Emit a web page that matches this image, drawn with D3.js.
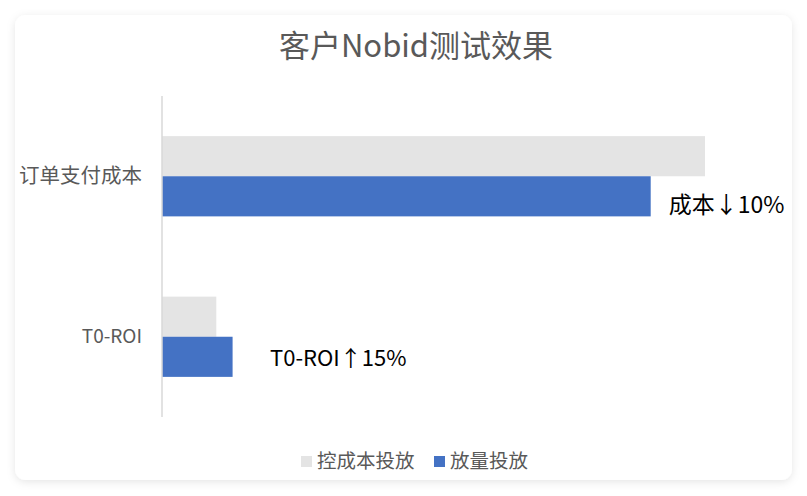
<!DOCTYPE html>
<html>
<head>
<meta charset="utf-8">
<script src="https://cdn.jsdelivr.net/npm/d3@7"></script>
<style>
  html, body { margin: 0; padding: 0; background: #ffffff; }
  #chart { width: 807px; height: 496px; }
  text { font-family: "Noto Sans CJK SC", "Noto Sans", sans-serif; }
</style>
</head>
<body>
<div id="chart"></div>
<script>
// chart data
var categories = ["订单支付成本", "T0-ROI"];
var seriesNames = ["控成本投放", "放量投放"];
var seriesColors = ["#e4e4e4", "#4472c4"];
var costValues = [100, 10];   // 控成本投放
var boostValues = [90, 13];   // 放量投放
var annotations = ["成本↓10%", "T0-ROI↑15%"];

var W = 807, H = 496;
var svg = d3.select("#chart").append("svg")
    .attr("width", W)
    .attr("height", H);

// card with soft shadow
var defs = svg.append("defs");
var f = defs.append("filter").attr("id", "shadow")
    .attr("x", "-5%").attr("y", "-5%").attr("width", "110%").attr("height", "115%");
f.append("feDropShadow")
    .attr("dx", 0).attr("dy", 2).attr("stdDeviation", 4)
    .attr("flood-color", "#000").attr("flood-opacity", 0.10);

svg.append("rect")
    .attr("x", 15).attr("y", 15)
    .attr("width", 777).attr("height", 465)
    .attr("rx", 11).attr("ry", 11)
    .attr("fill", "#fff")
    .attr("filter", "url(#shadow)");

// title
svg.append("text")
    .attr("x", 416).attr("y", 57)
    .attr("text-anchor", "middle")
    .attr("fill", "#595959")
    .attr("font-size", 31)
    .text("客户Nobid测试效果");

var plot = { left: 162, top: 96, bottom: 417 };

var x = d3.scaleLinear()
    .domain([0, 100])
    .range([plot.left, 705]);

var y = d3.scaleBand()
    .domain(categories)
    .range([plot.top, plot.bottom])
    .paddingInner(0.5)
    .paddingOuter(0.25);

var inner = d3.scaleBand()
    .domain(seriesNames)
    .range([0, y.bandwidth()]);

var rows = categories.map(function (c, i) {
    return { cat: c, values: [costValues[i], boostValues[i]] };
});

var g = svg.append("g");

g.selectAll(".row")
    .data(rows)
    .enter().append("g")
    .attr("class", "row")
    .attr("transform", function (d) { return "translate(0," + y(d.cat) + ")"; })
    .selectAll("rect")
    .data(function (d) { return d.values.map(function (v, j) { return { v: v, s: seriesNames[j], c: seriesColors[j] }; }); })
    .enter().append("rect")
    .attr("x", x(0))
    .attr("y", function (d) { return inner(d.s); })
    .attr("width", function (d) { return x(d.v) - x(0); })
    .attr("height", inner.bandwidth())
    .attr("fill", function (d) { return d.c; });

// category axis
var yAxis = svg.append("g")
    .attr("transform", "translate(" + plot.left + ",0)")
    .call(d3.axisLeft(y).tickSize(0).tickPadding(20));
yAxis.select(".domain")
    .attr("d", "M0," + plot.top + "V" + plot.bottom)
    .attr("stroke", "#d9d9d9")
    .attr("stroke-width", 1.5);
yAxis.selectAll(".tick text")
    .attr("fill", "#595959")
    .style("font-family", "'Noto Sans CJK SC', sans-serif")
    .attr("font-size", function (d, i) { return i === 0 ? 20.5 : 19; });

// annotations
svg.append("text")
    .attr("x", x(boostValues[0]) + 18)
    .attr("y", y(categories[0]) + inner("放量投放") + inner.bandwidth() / 2 + 17)
    .attr("fill", "#000")
    .attr("font-size", 23)
    .text(annotations[0]);

svg.append("text")
    .attr("x", 270)
    .attr("y", 366)
    .attr("fill", "#000")
    .attr("font-size", 22)
    .text(annotations[1]);

// legend
var legendX = [301, 434];
var legend = svg.selectAll(".legend")
    .data(seriesNames)
    .enter().append("g")
    .attr("class", "legend")
    .attr("transform", function (d, i) { return "translate(" + legendX[i] + ",456)"; });
legend.append("rect")
    .attr("width", 11).attr("height", 11)
    .attr("fill", function (d, i) { return seriesColors[i]; });
legend.append("text")
    .attr("x", 16).attr("y", 12)
    .attr("fill", "#595959")
    .attr("font-size", 19.5)
    .text(function (d) { return d; });
</script>
</body>
</html>
